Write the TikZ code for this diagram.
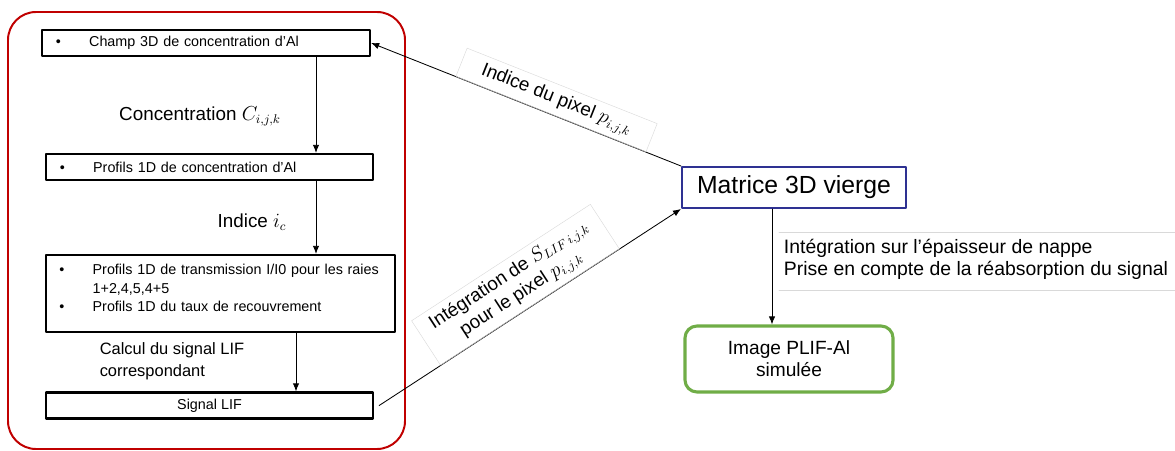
\documentclass[tikz,border=0pt]{standalone}
\usepackage{fontspec}
\setmainfont{Liberation Sans}
\usepackage{xcolor}
\usetikzlibrary{arrows.meta,positioning,calc}
\definecolor{cadrerouge}{HTML}{C00000}
\definecolor{bleumat}{HTML}{2E3192}
\definecolor{vertimg}{HTML}{70AD47}
\definecolor{grislabel}{HTML}{D9D9D9}
\newcommand{\puce}{\makebox[0.83cm][l]{\textbullet}}
\newcommand{\retrait}{\hspace*{0.83cm}}
\tikzset{
    every picture/.style={line cap=round,line join=round},
    etape/.style={draw=black,line width=1.6pt,minimum width=8.2cm,minimum height=0.65cm,
      inner xsep=0.35cm,inner ysep=1pt,font=\fontsize{10.2}{12.8}\selectfont},
    fleche/.style={-{Latex[length=2mm,width=1.6mm]},draw=black,line width=0.6pt},
    etiquette/.style={font=\fontsize{13.4}{16}\selectfont,align=center},
    boitegrise/.style={draw=grislabel,line width=0.3pt,inner xsep=0.55cm,inner ysep=4pt,
      font=\fontsize{13.4}{16}\selectfont,align=center}
}
\begin{document}
\begin{tikzpicture}[x=0.025cm,y=-0.025cm]
  \useasboundingbox (0,0) rectangle (1175,451);
  % cadre du modele
  \draw[cadrerouge,line width=1.4pt,rounded corners=0.7cm] (8,12) rectangle (405,449);
  % etapes du calcul
  \node[etape,text width=7.5cm,align=left] (champ) at (206,43) {\puce Champ 3D de concentration d'Al};
  \node[etape,minimum width=8.175cm,text width=7.475cm,align=left] (profils) at (209.5,167) {\puce Profils 1D de concentration d'Al};
  \node[etape,minimum width=8.725cm,minimum height=1.925cm,text width=8.05cm,align=left,inner xsep=0.3375cm] (transm) at (220.5,293.5)
    {\puce Profils 1D de transmission I/I0 pour les raies\\[1pt] \retrait 1+2,4,5,4+5\\ \puce Profils 1D du taux de recouvrement\\[-5pt] \mbox{}};
  \node[etape,minimum width=8.175cm] (signal) at (209.5,405.5) {Signal LIF};
  % matrice et image
  \node[draw=bleumat,line width=1.4pt,minimum width=5.6cm,minimum height=1.025cm,
    font=\fontsize{17.6}{20}\selectfont] (matrice) at (794,187.5) {Matrice 3D vierge};
  \node[draw=vertimg,line width=2.2pt,rounded corners=0.3cm,minimum width=5.2cm,minimum height=1.65cm,
    align=center,font=\fontsize{13.6}{15.6}\selectfont] (image) at (789,359) {Image PLIF-Al\\simulée};
  % fleches internes
  \coordinate (xa) at (316,0);
  \coordinate (xb) at (296,0);
  \coordinate (xc) at (772,0);
  \draw[fleche] (champ.south -| xa) -- (profils.north -| xa);
  \draw[fleche] (profils.south -| xa) -- (transm.north -| xa);
  \draw[fleche] (transm.south -| xb) -- (signal.north -| xb);
  \node[etiquette] (lconc) at (200,116) {Concentration $C_{i,j,k}$};
  \node[etiquette] (lind) at (252,222) {Indice $i_c$};
  \node[etiquette,align=left,font=\fontsize{11.7}{15.5}\selectfont] (lcalc) at (172,361) {Calcul du signal LIF\\correspondant};
  % echanges avec la matrice
  \draw[fleche] (matrice.north west) -- node[boitegrise,sloped,above,pos=0.42] (lpix)
    {Indice du pixel $p_{i,j,k}$} (champ.east);
  \draw[fleche] ($(signal.east)+(5,0)$) -- node[boitegrise,sloped,above,pos=0.5,inner xsep=0.35cm] (lsig)
    {Intégration de $S_{LIF\,i,j,k}$\\pour le pixel $p_{i,j,k}$} (matrice.south west);
  \draw[fleche] (matrice.south -| xc) -- (image.north -| xc);
  \node[etiquette,align=left,anchor=west,font=\fontsize{13.8}{15.6}\selectfont] (lint) at (779,259)
    {Intégration sur l'épaisseur de nappe\\Prise en compte de la réabsorption du signal};
  \draw[grislabel,line width=0.4pt] (lint.west |- 0,232) -- (1180,232);
  \draw[grislabel,line width=0.4pt] (lint.west |- 0,290) -- (1180,290);
\end{tikzpicture}
\end{document}
